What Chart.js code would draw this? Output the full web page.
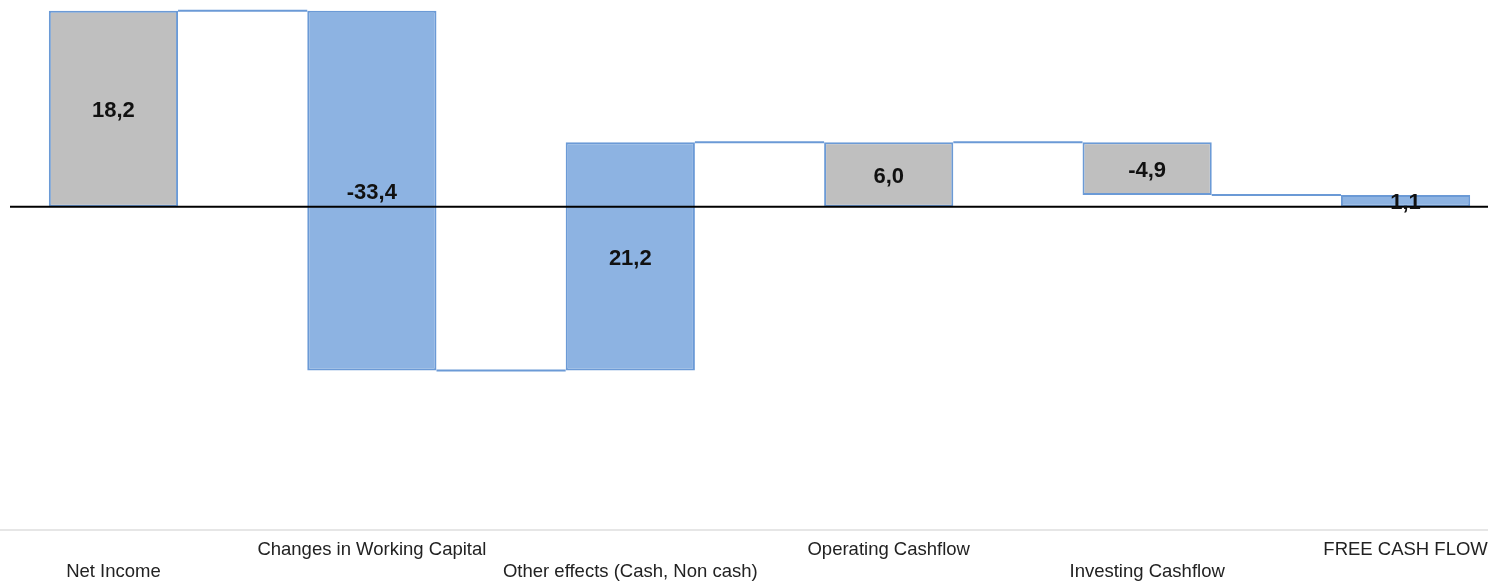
<!DOCTYPE html>
<html>
<head>
<meta charset="utf-8">
<script src="https://cdn.jsdelivr.net/npm/chart.js@4.4.1/dist/chart.umd.min.js"></script>
<style>
  html, body { margin: 0; padding: 0; background: #fff; }
  #wrap { width: 1488px; height: 583px; position: relative; }
</style>
</head>
<body>
<div id="wrap"><canvas id="myChart"></canvas></div>
<script>
// categories and values of the cash flow bridge
var categories = ['Net Income', 'Changes in Working Capital', 'Other effects (Cash, Non cash)', 'Operating Cashflow', 'Investing Cashflow', 'FREE CASH FLOW'];
var values = [18.2, -33.4, 21.2, 6.0, -4.9, 1.1];
var isTotal = [false, false, false, true, false, true];

var GRAY = '#bfbfbf';
var BLUE = '#8db3e2';
var EDGE = '#6b9ad6';

// floating bars from the running total
var running = 0;
var bars = values.map(function (v, i) {
  var start = isTotal[i] ? 0 : running;
  var end = isTotal[i] ? v : Math.round((running + v) * 10) / 10;
  running = end;
  return { x: i, y: [start, end] };
});

var extras = {
  id: 'extras',
  afterDatasetsDraw: function (chart) {
    var meta = chart.getDatasetMeta(0);
    var ys = chart.scales.y;
    var area = chart.chartArea;
    var c = chart.ctx;
    c.save();

    // connector lines between bars
    c.strokeStyle = EDGE;
    c.lineWidth = 2;
    for (var i = 0; i < meta.data.length - 1; i++) {
      var a = meta.data[i], b = meta.data[i + 1];
      var py = ys.getPixelForValue(bars[i].y[1]);
      c.beginPath();
      c.moveTo(a.x + a.width / 2, py);
      c.lineTo(b.x - b.width / 2, py);
      c.stroke();
    }

    // zero line
    var zy = ys.getPixelForValue(0);
    c.strokeStyle = '#000';
    c.lineWidth = 2;
    c.beginPath();
    c.moveTo(area.left + 10, zy);
    c.lineTo(area.right, zy);
    c.stroke();

    // value labels
    c.fillStyle = '#111';
    c.font = 'bold 22px "Liberation Sans", Arial, sans-serif';
    c.textAlign = 'center';
    c.textBaseline = 'middle';
    meta.data.forEach(function (bar, i) {
      var mid = (bar.y + bar.base) / 2 + 2.5;
      c.fillText(values[i].toFixed(1).replace('.', ','), bar.x, mid);
    });
    c.restore();
  }
};

var ctx = document.getElementById('myChart').getContext('2d');
var chart = new Chart(ctx, {
  type: 'bar',
  data: {
    datasets: [{
      data: bars,
      backgroundColor: [GRAY, BLUE, BLUE, GRAY, GRAY, BLUE],
      borderColor: EDGE,
      borderWidth: 2,
      borderSkipped: false,
      barPercentage: 0.5,
      categoryPercentage: 1.0
    }]
  },
  options: {
    responsive: true,
    maintainAspectRatio: false,
    animation: false,
    layout: { padding: { top: 0, left: 0, right: 0, bottom: -9 } },
    plugins: {
      legend: { display: false },
      tooltip: { enabled: false }
    },
    scales: {
      x: {
        type: 'linear',
        bounds: 'data',
        offset: false,
        min: -0.439,
        max: 5.319,
        grid: { display: false, drawTicks: false },
        border: { display: true, color: '#e6e6e6', width: 2 },
        afterBuildTicks: function (scale) {
          scale.ticks = categories.map(function (c, i) { return { value: i }; });
        },
        afterFit: function (scale) {
          scale.paddingLeft = 0;
          scale.paddingRight = 0;
        },
        ticks: {
          autoSkip: false,
          maxRotation: 0,
          padding: 9,
          color: '#222',
          font: { family: '"Liberation Sans", Arial, sans-serif', size: 18.5, lineHeight: '22px' },
          callback: function (value) {
            var i = Math.round(value);
            return i % 2 === 0 ? ['', categories[i]] : categories[i];
          }
        }
      },
      y: {
        display: false,
        min: -30,
        max: 19.2
      }
    }
  },
  plugins: [extras]
});
</script>
</body>
</html>
